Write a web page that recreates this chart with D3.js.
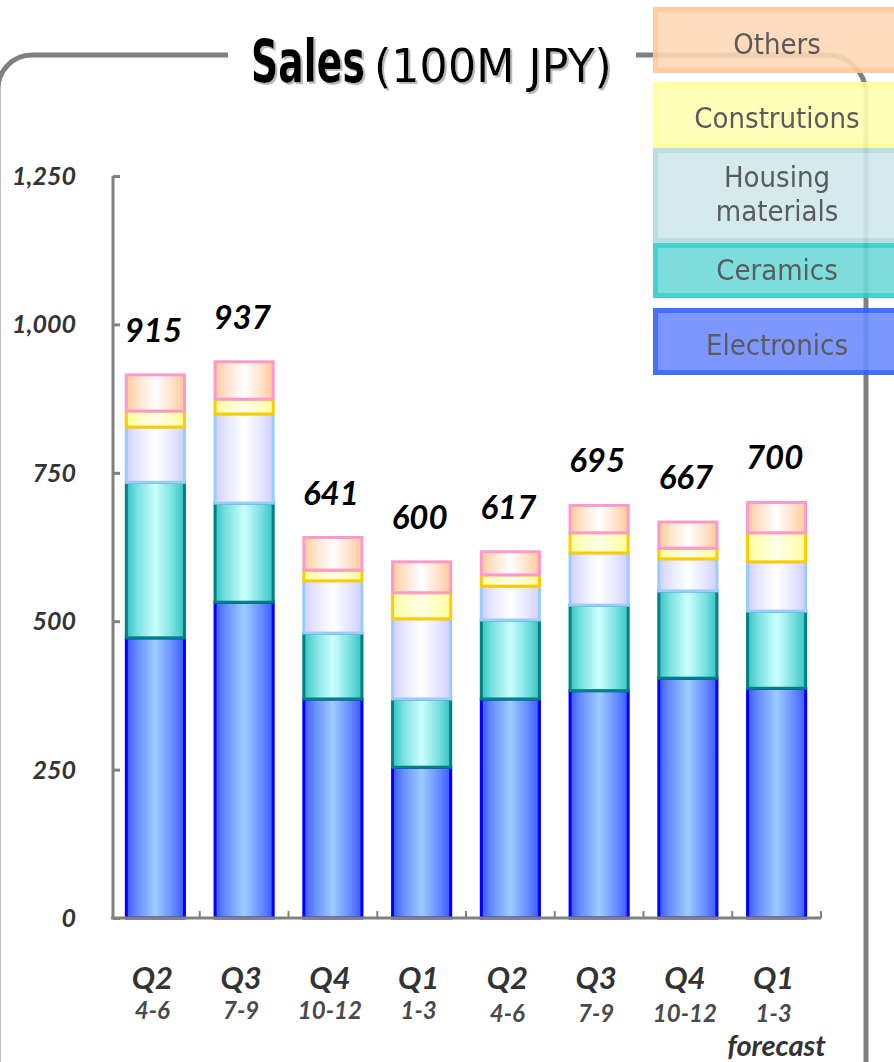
<!DOCTYPE html>
<html>
<head>
<meta charset="utf-8">
<script src="https://d3js.org/d3.v7.min.js"></script>
<style>
  html, body { margin: 0; padding: 0; background: #fff; }
  svg { display: block; }
  .axis path, .axis line { stroke: #808080; }
</style>
</head>
<body>
<svg></svg>
<script>
// categories
var quarters = ["Q2", "Q3", "Q4", "Q1", "Q2", "Q3", "Q4", "Q1"];
var months = ["4-6", "7-9", "10-12", "1-3", "4-6", "7-9", "10-12", "1-3"];

// series (100M JPY)
var electronics = [472, 532, 369, 254, 369, 383, 404, 387];
var ceramics    = [262, 167, 111, 115, 133, 144, 147, 130];
var housing     = [ 93, 150,  88, 135,  57,  88,  54,  83];
var construct   = [ 27,  25,  18,  44,  19,  34,  18,  49];
var others      = [ 61,  63,  55,  52,  39,  46,  44,  51];
var totals      = [915, 937, 641, 600, 617, 695, 667, 700];

var yTicks = [0, 250, 500, 750, 1000, 1250];
var seriesKeys = ["electronics", "ceramics", "housing", "construct", "others"];
var legendNames = ["Others", "Construtions", "Housing\nmaterials", "Ceramics", "Electronics"];

// configure size and margins
var config = {
  w: 894,
  h: 1062,
  x0: 111,
  x1: 821,
  yAxisX: 113,
  yTop: 176,
  yBottom: 918,
  barRatio: 0.655
};

var styles = {
  electronics: {edge: "#3a58ff", mid: "#9cccff", stroke: "#0000ff"},
  ceramics:    {edge: "#33c4c4", mid: "#ccffff", stroke: "#008080"},
  housing:     {edge: "#d0d0ff", mid: "#ffffff", stroke: "#99ccff"},
  construct:   {edge: "#ffff99", mid: "#ffffe8", stroke: "#ffcc00"},
  others:      {edge: "#ffc999", mid: "#ffffff", stroke: "#ff99cc"}
};

// legend boxes, top to bottom
var legendBoxes = [
  {y: 9.5,   h: 61, fill: "#fdd8b5", stroke: "#ffc896", ty: [54]},
  {y: 84.5,  h: 61, fill: "#ffffb3", stroke: "#ffff94", ty: [128]},
  {y: 150.5, h: 90, fill: "#d0e8ea", stroke: "#b4dde1", ty: [187, 221]},
  {y: 245.5, h: 50, fill: "#6fdada", stroke: "#33cccc", ty: [280]},
  {y: 310.5, h: 62, fill: "#6e8cff", stroke: "#3060ff", ty: [355]}
];

var svg = d3.select("svg")
  .attr("width", config.w)
  .attr("height", config.h);

var table = quarters.map(function(q, i) {
  return {
    i: i,
    electronics: electronics[i],
    ceramics: ceramics[i],
    housing: housing[i],
    construct: construct[i],
    others: others[i]
  };
});

var x = d3.scaleBand()
  .domain(d3.range(quarters.length))
  .range([config.x0, config.x1])
  .padding(0);

var y = d3.scaleLinear()
  .domain([0, 1250])
  .range([config.yBottom, config.yTop]);

var barW = x.bandwidth() * config.barRatio;

// gradients
var defs = svg.append("defs");
seriesKeys.forEach(function(k) {
  var s = styles[k];
  var grad = defs.append("linearGradient")
    .attr("id", "g-" + k)
    .attr("x1", "0%").attr("x2", "100%")
    .attr("y1", "0%").attr("y2", "0%");
  grad.append("stop").attr("offset", "0%").attr("stop-color", s.edge);
  grad.append("stop").attr("offset", "18%").attr("stop-color", d3.interpolateRgb(s.edge, s.mid)(0.45));
  grad.append("stop").attr("offset", "50%").attr("stop-color", s.mid);
  grad.append("stop").attr("offset", "80%").attr("stop-color", d3.interpolateRgb(s.edge, s.mid)(0.45));
  grad.append("stop").attr("offset", "100%").attr("stop-color", s.edge);
});

// soft shadow for the title
var shadow = defs.append("filter").attr("id", "shadow")
  .attr("x", "-5%").attr("y", "-10%").attr("width", "115%").attr("height", "130%");
shadow.append("feDropShadow")
  .attr("dx", 2).attr("dy", 2).attr("stdDeviation", 0.6)
  .attr("flood-color", "#bbbbbb").attr("flood-opacity", 1);

// frame
var frame = svg.append("g").attr("id", "frame")
  .attr("fill", "none")
  .attr("stroke", "#808080")
  .attr("stroke-width", 5);
frame.append("path").attr("d", "M228,55 H32 A34,34 0 0 0 -2,89 V1100");
frame.append("path").attr("d", "M636,55 H828 A39,39 0 0 1 866,94 V1100");

// title: squeeze horizontally to get the condensed gothic look
var title = svg.append("g").attr("id", "title").attr("filter", "url(#shadow)");
function squeezed(g, str, left, width, size, weight) {
  var holder = g.append("g");
  var t = holder.append("text")
    .attr("x", 0)
    .attr("y", 0)
    .attr("fill", "#000")
    .style("font-family", "'DejaVu Sans Condensed', 'DejaVu Sans', sans-serif")
    .style("font-weight", weight)
    .style("font-size", size + "px")
    .text(str);
  var len = t.node().getComputedTextLength();
  holder.attr("transform", "translate(" + left + ",82) scale(" + (width / len) + ",1)");
}
squeezed(title, "Sales", 251, 114, 58, "bold");
squeezed(title, "(100M JPY)", 374, 238, 46, "normal");

// stacked bars
var stack = d3.stack().keys(seriesKeys);
var layers = stack(table);

var plot = svg.append("g").attr("id", "plot");
layers.forEach(function(layer) {
  var k = layer.key;
  plot.append("g")
    .attr("class", "layer " + k)
    .selectAll("rect")
    .data(layer)
    .enter()
    .append("rect")
      .attr("x", function(d) { return x(d.data.i) + (x.bandwidth() - barW) / 2; })
      .attr("y", function(d) { return y(d[1]); })
      .attr("width", barW)
      .attr("height", function(d) { return y(d[0]) - y(d[1]); })
      .attr("fill", "url(#g-" + k + ")")
      .attr("stroke", styles[k].stroke)
      .attr("stroke-width", 3);
});

// total labels
plot.append("g")
  .selectAll("text")
  .data(totals)
  .enter()
  .append("text")
    .attr("x", function(d, i) { return x(i) + x.bandwidth() / 2 - 2; })
    .attr("y", function(d) { return y(d) - 33; })
    .attr("text-anchor", "middle")
    .style("font-family", "Lato, sans-serif")
    .style("font-weight", "bold")
    .style("font-style", "italic")
    .style("font-size", "33px")
    .attr("fill", "#000")
    .text(function(d) { return d; });

// y axis
var yAxis = svg.append("g")
  .attr("class", "axis")
  .attr("transform", "translate(" + config.yAxisX + ",0)")
  .call(d3.axisRight(y).tickValues(yTicks).tickSize(7).tickFormat(""));
yAxis.select(".domain").attr("d", "M0," + config.yTop + "V" + config.yBottom).attr("stroke-width", 3);
yAxis.selectAll(".tick line").attr("stroke-width", 3);

svg.append("g")
  .selectAll("text")
  .data(yTicks)
  .enter()
  .append("text")
    .attr("x", 76)
    .attr("y", function(d) { return y(d) + 9; })
    .attr("text-anchor", "end")
    .style("font-family", "Lato, sans-serif")
    .style("font-weight", "bold")
    .style("font-style", "italic")
    .style("font-size", "25px")
    .attr("fill", "#333")
    .text(function(d) { return d3.format(",")(d); });

// x axis
var xa = svg.append("g").attr("class", "axis");
xa.append("path")
  .attr("d", "M" + config.x0 + "," + config.yBottom + "H" + config.x1)
  .attr("stroke-width", 3);
xa.selectAll("line")
  .data(d3.range(1, quarters.length + 1))
  .enter()
  .append("line")
    .attr("x1", function(d) { return config.x0 + d * x.step(); })
    .attr("x2", function(d) { return config.x0 + d * x.step(); })
    .attr("y1", config.yBottom - 7)
    .attr("y2", config.yBottom)
    .attr("stroke-width", 2);

var xl = svg.append("g").attr("id", "xlabels")
  .style("font-family", "Lato, sans-serif")
  .style("font-weight", "bold")
  .style("font-style", "italic");
xl.selectAll("text.q")
  .data(quarters)
  .enter()
  .append("text")
    .attr("class", "q")
    .attr("x", function(d, i) { return x(i) + x.bandwidth() / 2 - 3; })
    .attr("y", 989)
    .attr("text-anchor", "middle")
    .style("font-size", "31px")
    .attr("fill", "#333")
    .text(function(d) { return d; });
xl.selectAll("text.m")
  .data(months)
  .enter()
  .append("text")
    .attr("class", "m")
    .attr("x", function(d, i) { return x(i) + x.bandwidth() / 2 - 3; })
    .attr("y", function(d, i) { return i < 4 ? 1019 : 1022; })
    .attr("text-anchor", "middle")
    .style("font-size", "24px")
    .attr("fill", "#4a4a4a")
    .text(function(d) { return d; });
xl.append("text")
  .attr("x", 826)
  .attr("y", 1056)
  .attr("text-anchor", "end")
  .style("font-size", "29px")
  .attr("fill", "#333")
  .text("forecast");

// legend
var leg = svg.append("g").attr("id", "legend").attr("opacity", 0.9);
legendBoxes.forEach(function(b, i) {
  leg.append("rect")
    .attr("x", 655.5)
    .attr("y", b.y)
    .attr("width", 260)
    .attr("height", b.h)
    .attr("fill", b.fill)
    .attr("stroke", b.stroke)
    .attr("stroke-width", 5);
  legendNames[i].split("\n").forEach(function(line, j) {
    leg.append("text")
      .attr("x", 777)
      .attr("y", b.ty[j])
      .attr("text-anchor", "middle")
      .style("font-family", "'DejaVu Sans Condensed', 'DejaVu Sans', sans-serif")
      .style("font-size", "29px")
      .attr("fill", "#4a4a4a")
      .text(line);
  });
});
</script>
</body>
</html>
